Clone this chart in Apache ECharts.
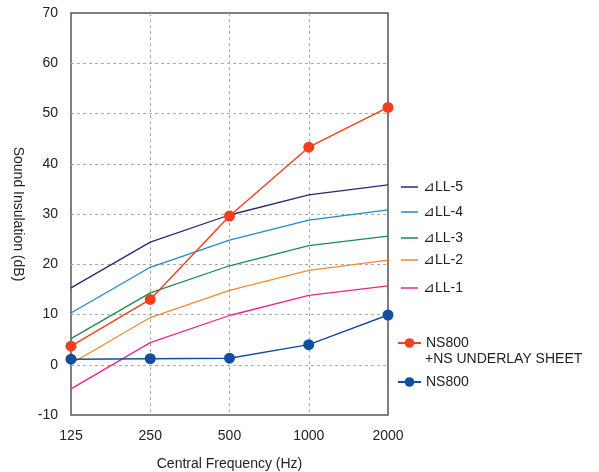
<!DOCTYPE html>
<html><head><meta charset="utf-8">
<script src="https://cdn.jsdelivr.net/npm/echarts@6/dist/echarts.min.js"></script>
<style>html,body{margin:0;padding:0;background:#fff}#c{width:599px;height:472px}</style>
</head><body><div id="c"></div>
<script>
const categories = ['125','250','500','1000','2000'];
const yTicks = [-10, 0, 10, 20, 30, 40, 50, 60, 70];
const ll5 = [15.3, 24.4, 29.8, 33.8, 35.8];
const ll4 = [10.3, 19.4, 24.8, 28.8, 30.8];
const ll3 = [5.2, 14.3, 19.7, 23.7, 25.6];
const ll2 = [0.2, 9.4, 14.8, 18.8, 20.8];
const ll1 = [-4.8, 4.4, 9.8, 13.8, 15.7];
const nsSheet = [3.7, 13.0, 29.6, 43.3, 51.2];
const ns800 = [1.1, 1.2, 1.3, 4.0, 9.9];
const names = ['⊿LL-5','⊿LL-4','⊿LL-3','⊿LL-2','⊿LL-1','NS800 +NS UNDERLAY SHEET','NS800'];

const font = 'Liberation Sans, Arial, Helvetica, sans-serif';
const chart = echarts.init(document.getElementById('c'), null, {renderer:'canvas'});

function llSeries(name, data, color){
  return {name, type:'line', data, symbol:'none', smooth:false,
    lineStyle:{color, width:1.3}, itemStyle:{color}, z:2};
}
function ptSeries(name, data, color){
  return {name, type:'line', data, symbol:'circle', symbolSize:11,
    lineStyle:{color, width:1.4}, itemStyle:{color}, z:3};
}
function legendLL(name, top){
  return {data:[{name, icon:'rect'}], left:396, top, itemWidth:17, itemHeight:1.5,
    textStyle:{fontFamily:font, fontSize:14, color:'#222'}};
}
function legendPt(name, top){
  return {data:[name], left:392, top, itemWidth:23, itemHeight:12,
    textStyle:{fontFamily:font, fontSize:14, color:'#222'},
    formatter: n => n === names[5] ? 'NS800' : n};
}
const splitStyle = {show:true, showMinLine:false, showMaxLine:false, lineStyle:{type:[3,3], color:'#aaa', width:1}};
chart.setOption({
  animation:false,
  grid:{left:71, right:211, top:13, bottom:57, outerBoundsMode:'none', containLabel:false,
    show:true, borderColor:'#555', borderWidth:1.5, backgroundColor:'transparent'},
  xAxis:{type:'category', data:categories, boundaryGap:false,
    axisLine:{show:false}, axisTick:{show:false},
    axisLabel:{fontFamily:font, fontSize:14, color:'#222', margin:14},
    splitLine:splitStyle,
    name:'Central Frequency (Hz)', nameLocation:'middle', nameGap:42,
    nameTextStyle:{fontFamily:font, fontSize:14, color:'#222'}},
  yAxis:{type:'value', min:yTicks[0], max:yTicks[yTicks.length-1], interval:10,
    axisLine:{show:false}, axisTick:{show:false},
    axisLabel:{fontFamily:font, fontSize:14, color:'#222', margin:13},
    splitLine:splitStyle,
    name:'Sound Insulation (dB)', nameLocation:'middle', nameGap:46, nameRotate:-90,
    nameTextStyle:{fontFamily:font, fontSize:14, color:'#222'}},
  legend:[
    legendLL(names[0], 175),
    legendLL(names[1], 200),
    legendLL(names[2], 226),
    legendLL(names[3], 248),
    legendLL(names[4], 276),
    legendPt(names[5], 331),
    legendPt(names[6], 370)
  ],
  graphic:[{type:'text', left:425, top:352, style:{text:'+NS UNDERLAY SHEET', font:'14px '+font, fill:'#222'}}],
  series:[
    llSeries(names[0], ll5, '#2b2872'),
    llSeries(names[1], ll4, '#1f8bc6'),
    llSeries(names[2], ll3, '#1d8b4e'),
    llSeries(names[3], ll2, '#f28b32'),
    llSeries(names[4], ll1, '#e8268c'),
    ptSeries(names[5], nsSheet, '#f2401f'),
    ptSeries(names[6], ns800, '#124ea0')
  ]
});
</script></body></html>
